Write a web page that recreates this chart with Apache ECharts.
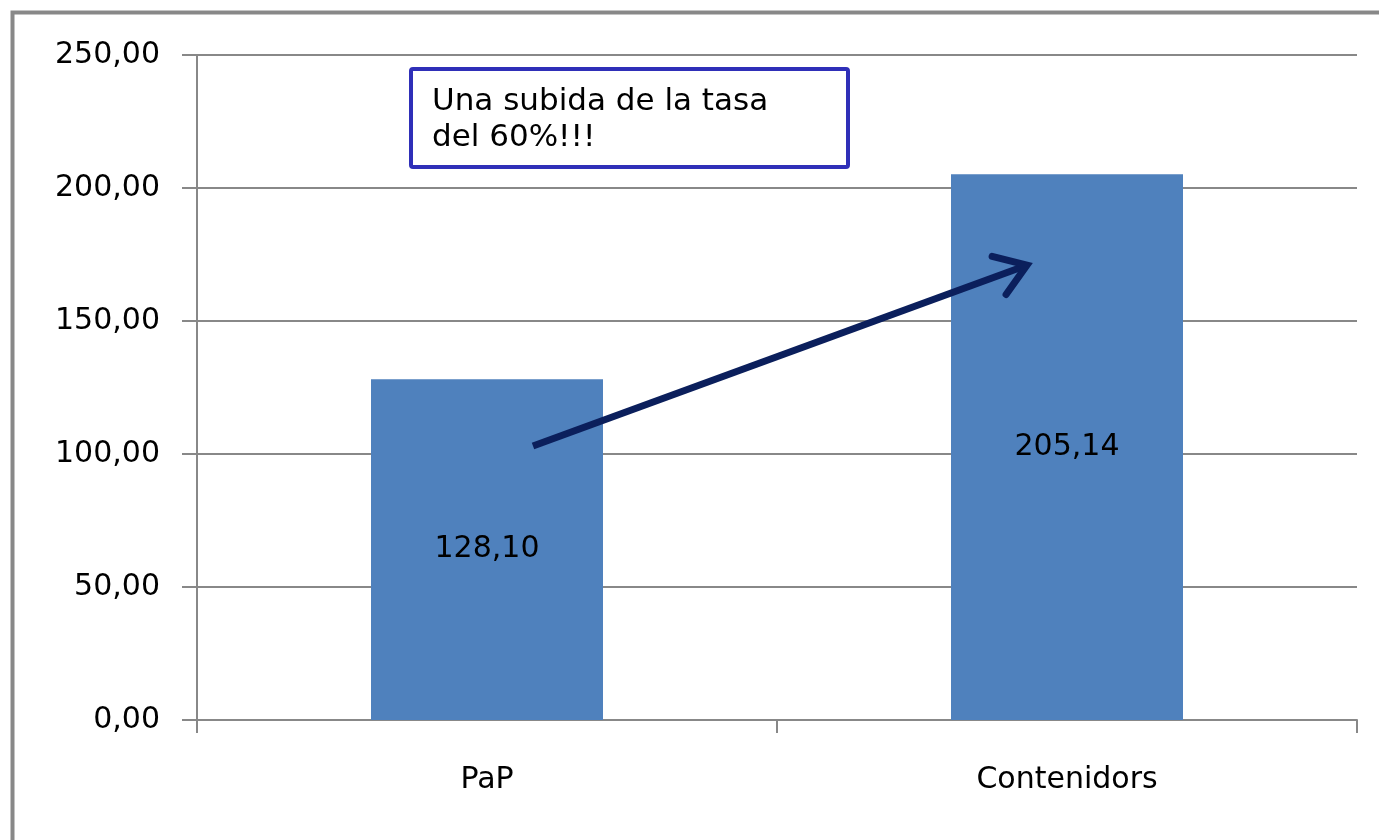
<!DOCTYPE html>
<html>
<head>
<meta charset="utf-8">
<script src="https://cdn.jsdelivr.net/npm/echarts@6/dist/echarts.min.js"></script>
<style>html,body{margin:0;padding:0;background:#fff;}#c{width:1379px;height:840px;}</style>
</head>
<body>
<div id="c"></div>
<script>
const categories = ['PaP', 'Contenidors'];
const values = [128.10, 205.14];
const yTicks = [0, 50, 100, 150, 200, 250];
const noteText = 'Una subida de la tasa\ndel 60%!!!';
const arrowFrom = ['PaP', 103];
const arrowTo = ['Contenidors', 171];

const fmt = v => Number(v).toFixed(2).replace('.', ',');
const FONT = '"DejaVu Sans", Verdana, sans-serif';
const chart = echarts.init(document.getElementById('c'), null, {renderer: 'canvas'});

chart.setOption({
  animation: false,
  backgroundColor: '#fff',
  grid: {left: 197, right: 22, top: 55, bottom: 120, containLabel: false},
  xAxis: {
    type: 'category',
    data: categories,
    axisLine: {lineStyle: {color: '#888', width: 2}},
    axisTick: {show: true, length: 13, lineStyle: {color: '#888', width: 2}},
    axisLabel: {color: '#000', fontFamily: FONT, fontSize: 30, margin: 45}
  },
  yAxis: {
    type: 'value',
    min: yTicks[0], max: yTicks[yTicks.length - 1], interval: 50,
    axisLine: {show: true, lineStyle: {color: '#888', width: 2}},
    axisTick: {show: true, length: 15, lineStyle: {color: '#888', width: 2}},
    splitLine: {lineStyle: {color: '#888', width: 2}},
    axisLabel: {color: '#000', fontFamily: FONT, fontSize: 30, margin: 37, formatter: fmt,
      padding: [4, 0, 0, 0]}
  },
  series: [{
    type: 'bar',
    data: values,
    barWidth: '40%',
    itemStyle: {color: '#4f81bd'},
    label: {show: true, position: 'inside', color: '#000', fontFamily: FONT, fontSize: 30,
      formatter: p => fmt(p.value)}
  }]
});

function drawAnnotations() {
  const p0 = chart.convertToPixel({gridIndex: 0}, arrowFrom);
  const p1 = chart.convertToPixel({gridIndex: 0}, arrowTo);
  const x0 = p0[0] + 46, y0 = p0[1];
  const x1 = p1[0] - 40, y1 = p1[1];
  const ang = Math.atan2(y1 - y0, x1 - x0);
  const hl = 36, ha = 0.6;
  const h1 = [x1 - hl * Math.cos(ang - ha), y1 - hl * Math.sin(ang - ha)];
  const h2 = [x1 - hl * Math.cos(ang + ha), y1 - hl * Math.sin(ang + ha)];
  const arrowStyle = {stroke: '#0b1f5c', lineWidth: 7, fill: null, lineCap: 'butt', lineJoin: 'miter'};
  chart.setOption({
    graphic: [
      {type: 'rect', left: 10, top: 10, shape: {x: 0, y: 0, width: 1420, height: 900},
        style: {fill: null, stroke: '#888', lineWidth: 4}, silent: true, z: 100},
      {type: 'rect', shape: {x: 411, y: 69, width: 437, height: 98, r: 2},
        style: {fill: '#fff', stroke: '#2f2fb8', lineWidth: 4}, z: 100},
      {type: 'text', x: 432, y: 84, z: 101,
        style: {text: noteText, fill: '#000', font: '31px ' + FONT, lineHeight: 36}},
      {type: 'line', shape: {x1: x0, y1: y0, x2: x1 - 3 * Math.cos(ang), y2: y1 - 3 * Math.sin(ang)},
        style: Object.assign({}, arrowStyle), z: 100},
      {type: 'polyline', shape: {points: [h1, [x1, y1], h2]},
        style: Object.assign({}, arrowStyle, {lineCap: 'round', lineJoin: 'miter'}), z: 100}
    ]
  });
}
drawAnnotations();
</script>
</body>
</html>
